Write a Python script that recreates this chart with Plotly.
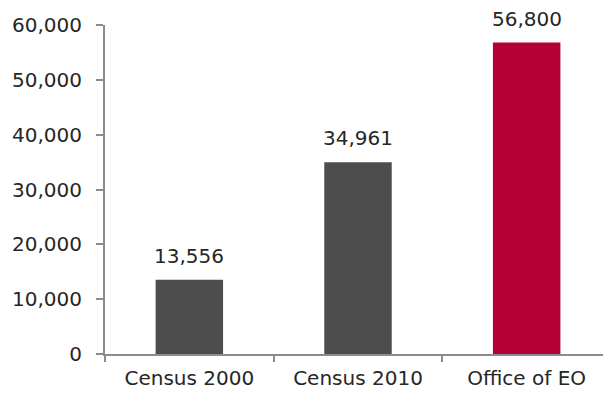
import plotly.graph_objs as go

categories = ['Census 2000', 'Census 2010', 'Office of EO']
values = [13556, 34961, 56800]
bar_colors = ['#4d4d4d', '#4d4d4d', '#b40034']
tick_vals = [0, 10000, 20000, 30000, 40000, 50000, 60000]

font_dict = dict(family='DejaVu Sans', size=20, color='#262626')

fig = go.Figure()
fig.add_trace(go.Bar(x=categories, y=values,
                     marker=dict(color=bar_colors, line=dict(width=0)),
                     width=0.4))

# value labels above the bars
for c, v in zip(categories, values):
    fig.add_annotation(x=c, y=v, text=f'{v:,}', showarrow=False,
                       yanchor='bottom', yshift=10, font=font_dict)

# page body has an 8px margin, so figure is 603x392 placed at (8,8)
fig.update_layout(font=font_dict,
                  plot_bgcolor='white',
                  paper_bgcolor='white',
                  width=603, height=392,
                  margin=dict(l=97, r=0, t=17, b=46),
                  showlegend=False)

fig.update_yaxes(range=[0, 60000], tickvals=tick_vals, tickformat=',',
                 showline=True, linecolor='#8c8c8c', linewidth=2,
                 ticks='outside', ticklen=7, tickwidth=2, tickcolor='#8c8c8c',
                 ticklabelstandoff=10,
                 showgrid=False, zeroline=False, tickfont=font_dict)
fig.update_xaxes(showline=True, linecolor='#8c8c8c', linewidth=2,
                 ticks='outside', tickson='boundaries', ticklen=6, tickwidth=2,
                 tickcolor='#8c8c8c', ticklabelstandoff=5,
                 showgrid=False, tickfont=font_dict)

fig.write_html('out.html')
